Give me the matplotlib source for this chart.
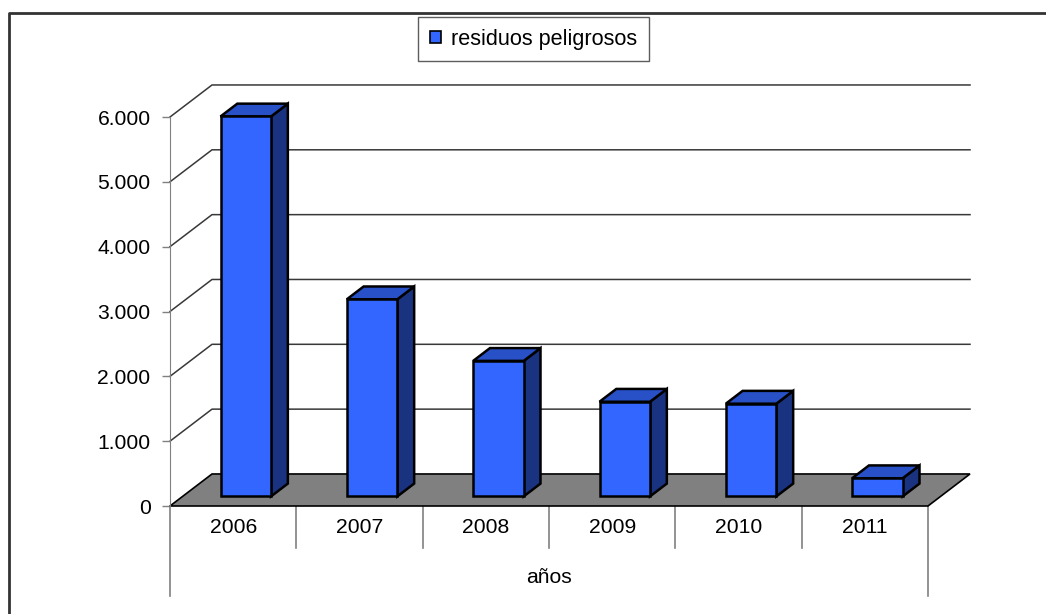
import matplotlib
matplotlib.use("Agg")
import matplotlib.pyplot as plt
from matplotlib.patches import Polygon, Patch
from matplotlib.lines import Line2D

plt.rcParams['font.family'] = ['Liberation Sans', 'DejaVu Sans']

# data
years = ['2006', '2007', '2008', '2009', '2010', '2011']
residuos = [5860, 3040, 2090, 1460, 1430, 280]
yticks = [0, 1000, 2000, 3000, 4000, 5000, 6000]
series_label = 'residuos peligrosos'
xlabel = 'años'

# 3D look: depth offset of the back wall, in data units
DX = 0.3325
DY = 494.0
D0, D1 = 0.3, 0.7      # bar depth span
BW = 0.4               # bar width (category units)

FRONT = '#3366FF'
TOP = '#2851C8'
SIDE = '#1A3380'
FLOOR = '#808080'
GRID = '#383838'
AXC = '#808080'
FS = 15.2


def proj(x, v, d):
    return (x + d * DX, v + d * DY)


fig = plt.figure(figsize=(10.46, 6.14), dpi=100)
W, H = 1046, 614
ax = fig.add_axes([170 / W, (H - 506) / H, 758 / W, 389 / H])
ax.set_xlim(0, len(years))
ax.set_ylim(0, 6000)
for s in ['top', 'right', 'bottom']:
    ax.spines[s].set_visible(False)
ax.spines['left'].set_color(AXC)
ax.set_facecolor('none')
ax.set_xticks([])
ax.set_yticks(yticks)
ax.set_yticklabels([f'{v:,}'.replace(',', '.') for v in yticks], fontsize=FS)
ax.tick_params(axis='y', colors=AXC, length=6, width=1, pad=8, labelcolor='black')

n = len(years)

# gridlines: left wall diagonal + back wall
for v in yticks[1:]:
    pts = [proj(0, v, 0), proj(0, v, 1), proj(n, v, 1)]
    ax.plot(*zip(*pts), color=GRID, lw=1.1, clip_on=False, zorder=1)

# floor
floor = [proj(0, 0, 0), proj(n, 0, 0), proj(n, 0, 1), proj(0, 0, 1)]
ax.add_patch(Polygon(floor, closed=True, facecolor=FLOOR, edgecolor='black',
                     lw=1.2, clip_on=False, zorder=2))

# bars
for i, v in enumerate(residuos):
    x0 = i + 0.5 - BW / 2
    x1 = x0 + BW
    front = [proj(x0, 0, D0), proj(x1, 0, D0), proj(x1, v, D0), proj(x0, v, D0)]
    top = [proj(x0, v, D0), proj(x1, v, D0), proj(x1, v, D1), proj(x0, v, D1)]
    side = [proj(x1, 0, D0), proj(x1, 0, D1), proj(x1, v, D1), proj(x1, v, D0)]
    for poly, c in [(side, SIDE), (top, TOP), (front, FRONT)]:
        ax.add_patch(Polygon(poly, closed=True, facecolor=c, edgecolor='black',
                             lw=1.8, joinstyle='miter', clip_on=False, zorder=3))

# category dividers below the floor
for k in range(n + 1):
    bottom = -1389 if k in (0, n) else -648
    ax.plot([k, k], [0, bottom], color=AXC, lw=1.2, clip_on=False, zorder=1)

for i, lab in enumerate(years):
    ax.text(i + 0.5, -324, lab, ha='center', va='center', fontsize=FS)
ax.text(n / 2, -1110, xlabel, ha='center', va='center', fontsize=FS)

# legend
leg = fig.legend(handles=[Patch(facecolor=FRONT, edgecolor='black', lw=1.2,
                                label=series_label)],
                 loc='center', bbox_to_anchor=(533.5 / W, 1 - 39 / H),
                 fontsize=15.6, frameon=True, fancybox=False, shadow=False,
                 handlelength=0.5, handleheight=0.5, handletextpad=0.45,
                 borderpad=0.55, borderaxespad=0)
leg.get_frame().set_edgecolor('#333333')
leg.get_frame().set_linewidth(1)

# chart area border (left and top visible)
fig.add_artist(Line2D([9 / W, 9 / W, 1.0], [0, 1 - 13 / H, 1 - 13 / H],
                      transform=fig.transFigure, color='#333333', lw=2))

fig.savefig('out.png', dpi=100, facecolor='white')
